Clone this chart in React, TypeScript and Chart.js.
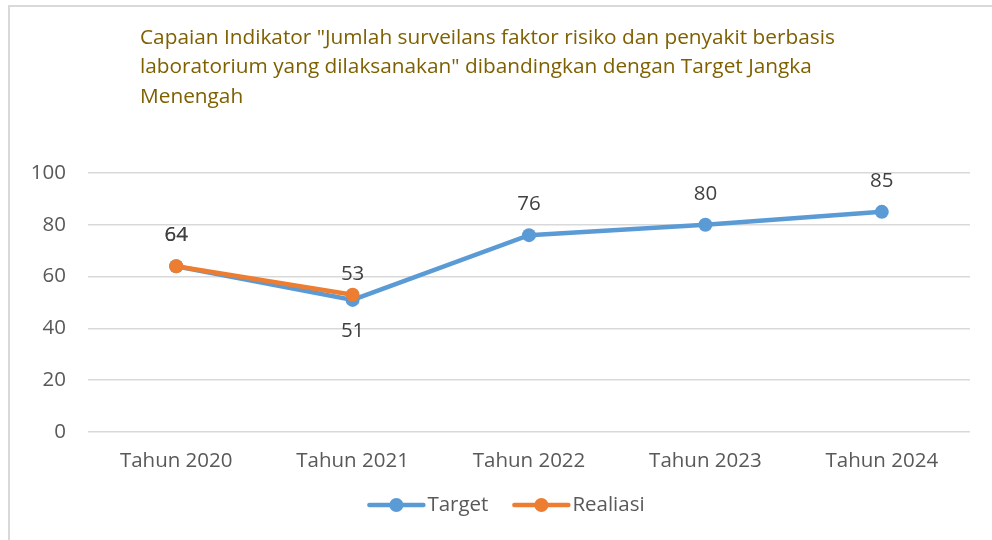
import React, { useEffect, useRef } from "react";
import { Chart, registerables } from "chart.js";
Chart.register(...registerables);

const categories = ["Tahun 2020", "Tahun 2021", "Tahun 2022", "Tahun 2023", "Tahun 2024"];
const targetValues = [64, 51, 76, 80, 85];
const realisasiValues: (number | null)[] = [64, 53, null, null, null];
const targetLabelPos = ["above", "below", "above", "above", "above"];
const realisasiLabelPos = ["above", "above-near", "above", "above", "above"];
const seriesNames = ["Target", "Realiasi"];
const titleLines = [
  'Capaian Indikator "Jumlah surveilans faktor risiko dan penyakit berbasis',
  'laboratorium yang dilaksanakan" dibandingkan dengan Target Jangka',
  "Menengah",
];

const FONT = "'Open Sans', 'Noto Sans', sans-serif";
const BLUE = "#5b9bd5";
const ORANGE = "#ed7d31";
const TEXT = "#595959";

const titlePlugin = {
  id: "customTitle",
  afterDraw(chart: any) {
    const ctx = chart.ctx;
    ctx.save();
    ctx.fillStyle = "#7f6000";
    ctx.font = `20.8px ${FONT}`;
    ctx.textAlign = "left";
    ctx.textBaseline = "middle";
    titleLines.forEach((line, i) => ctx.fillText(line, 140, 38 + i * 29.5));
    ctx.restore();
  },
};

const labelPlugin = {
  id: "dataLabels",
  afterDatasetsDraw(chart: any) {
    const ctx = chart.ctx;
    ctx.save();
    ctx.fillStyle = "#404040";
    ctx.font = `20.5px ${FONT}`;
    ctx.textAlign = "center";
    ctx.textBaseline = "middle";
    const positions = [targetLabelPos, realisasiLabelPos];
    const offsets: Record<string, number> = { above: -31, below: 31, "above-near": -21 };
    chart.data.datasets.forEach((ds: any, di: number) => {
      const meta = chart.getDatasetMeta(di);
      meta.data.forEach((pt: any, i: number) => {
        const v = ds.data[i];
        if (v === null || v === undefined) return;
        ctx.fillText(String(v), pt.x, pt.y + offsets[positions[di][i]]);
      });
    });
    ctx.restore();
  },
};

const legendPlugin = {
  id: "customLegend",
  afterDraw(chart: any) {
    const ctx = chart.ctx;
    ctx.save();
    ctx.font = `20.5px ${FONT}`;
    ctx.textBaseline = "middle";
    ctx.textAlign = "left";
    const colors = [BLUE, ORANGE];
    const lineLen = 54;
    const gap = 4;
    const itemGap = 26;
    const widths = seriesNames.map((n) => lineLen + gap + ctx.measureText(n).width);
    const total = widths.reduce((a, b) => a + b, 0) + itemGap * (seriesNames.length - 1);
    let x = 507 - total / 2;
    const y = 505;
    seriesNames.forEach((n, i) => {
      ctx.strokeStyle = colors[i];
      ctx.lineWidth = 4.5;
      ctx.lineCap = "round";
      ctx.beginPath();
      ctx.moveTo(x, y);
      ctx.lineTo(x + lineLen, y);
      ctx.stroke();
      ctx.fillStyle = colors[i];
      ctx.beginPath();
      ctx.arc(x + lineLen / 2, y, 7, 0, Math.PI * 2);
      ctx.fill();
      ctx.fillStyle = TEXT;
      ctx.fillText(n, x + lineLen + gap, y);
      x += widths[i] + itemGap;
    });
    ctx.restore();
  },
};

export default function App() {
  const ref = useRef<HTMLCanvasElement>(null);
  useEffect(() => {
    if (!ref.current) return;
    const chart = new Chart(ref.current, {
      type: "line",
      data: {
        labels: categories,
        datasets: [
          {
            label: seriesNames[0],
            data: targetValues,
            borderColor: BLUE,
            backgroundColor: BLUE,
            borderWidth: 4.5,
            pointRadius: 7,
            pointHoverRadius: 7,
            pointBorderWidth: 0,
            tension: 0,
            order: 1,
          },
          {
            label: seriesNames[1],
            data: realisasiValues,
            borderColor: ORANGE,
            backgroundColor: ORANGE,
            borderWidth: 4.5,
            pointRadius: 7,
            pointHoverRadius: 7,
            pointBorderWidth: 0,
            tension: 0,
            spanGaps: false,
            order: 0,
          },
        ],
      },
      options: {
        responsive: false,
        animation: false,
        layout: { padding: { left: 0, right: 22, top: 173, bottom: 0 } },
        plugins: {
          legend: { display: false },
          title: { display: false },
          tooltip: { enabled: false },
        },
        scales: {
          x: {
            offset: true,
            grid: { display: false, drawTicks: false, offset: true },
            border: { display: false },
            ticks: { color: TEXT, font: { family: FONT, size: 20.5 }, padding: 17, maxRotation: 0, autoSkip: false },
            afterFit: (s: any) => {
              s.height = 108;
            },
          },
          y: {
            min: 0,
            max: 100,
            grid: { color: "#d9d9d9", lineWidth: 1.5, drawTicks: false },
            border: { display: false },
            ticks: { stepSize: 20, color: TEXT, font: { family: FONT, size: 20.5 }, padding: 22 },
            afterFit: (s: any) => {
              s.width = 88;
            },
          },
        },
      },
      plugins: [titlePlugin, labelPlugin, legendPlugin],
    });
    return () => chart.destroy();
  }, []);

  return (
    <div
      style={{
        position: "fixed",
        left: 0,
        top: 0,
        width: 992,
        height: 540,
        overflow: "hidden",
        background: "#fff",
      }}
    >
      <div
        style={{
          position: "absolute",
          left: 8,
          top: 5,
          width: 1010,
          height: 600,
          border: "2px solid #d9d9d9",
          boxSizing: "border-box",
        }}
      />
      <canvas
        ref={ref}
        width={992}
        height={540}
        style={{ position: "absolute", left: 0, top: 0, width: 992, height: 540 }}
      />
    </div>
  );
}
